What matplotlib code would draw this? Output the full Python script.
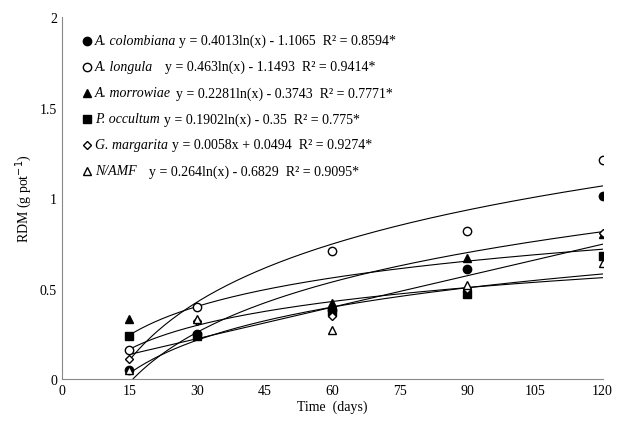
import numpy as np
import matplotlib.pyplot as plt

plt.rcParams['font.family'] = ['Liberation Serif', 'DejaVu Serif']

days = [15, 30, 60, 90, 120]
names = ['A. colombiana', 'A. longula', 'A. morrowiae', 'P. occultum', 'G. margarita', 'N/AMF']
eqs = ['y = 0.4013ln(x) - 1.1065  R² = 0.8594*',
       'y = 0.463ln(x) - 1.1493  R² = 0.9414*',
       'y = 0.2281ln(x) - 0.3743  R² = 0.7771*',
       'y = 0.1902ln(x) - 0.35  R² = 0.775*',
       'y = 0.0058x + 0.0494  R² = 0.9274*',
       'y = 0.264ln(x) - 0.6829  R² = 0.9095*']
values = [
    [0.05, 0.25, 0.38, 0.61, 1.01],
    [0.16, 0.40, 0.71, 0.82, 1.21],
    [0.33, 0.25, 0.42, 0.67, 0.80],
    [0.24, 0.24, 0.37, 0.47, 0.68],
    [0.11, 0.32, 0.35, 0.50, 0.81],
    [0.05, 0.33, 0.27, 0.52, 0.64],
]
coefs = [(0.4013, -1.1065, 'log'), (0.463, -1.1493, 'log'), (0.2281, -0.3743, 'log'),
         (0.1902, -0.35, 'log'), (0.0058, 0.0494, 'lin'), (0.264, -0.6829, 'log')]
markers = [('o', 'black'), ('o', 'white'), ('^', 'black'), ('s', 'black'), ('D', 'white'), ('^', 'white')]
eq_gap = [6, 15, 8, 7, 7, 15]  # pixels between name and equation

fig, ax = plt.subplots(figsize=(6.18, 4.31), dpi=100)
fig.subplots_adjust(left=0.1, right=0.975, top=0.958, bottom=0.118)
xs = np.linspace(15, 120, 200)
for (a, b, kind) in coefs:
    ys = a * np.log(xs) + b if kind == 'log' else a * xs + b
    ax.plot(xs, ys, color='black', lw=0.8)
for v, (m, fc) in zip(values, markers):
    ax.plot(days, v, m, mfc=fc, mec='black', ms=6 if m != 'D' else 4.5, ls='none')

fig.canvas.draw()
r = fig.canvas.get_renderer()
for i, (n, e, (m, fc)) in enumerate(zip(names, eqs, markers)):
    y = 1.87 - i * 0.144
    ax.plot(5.7, y, m, mfc=fc, mec='black', ms=6 if m != 'D' else 4.5, clip_on=False)
    t = ax.text(7.3, y, n, style='italic', fontsize=10, va='center')
    bb = t.get_window_extent(r)
    x1 = ax.transData.inverted().transform((bb.x1 + eq_gap[i], 0))[0]
    ax.text(x1, y, e, fontsize=10, va='center')

ax.set_xlim(0, 120)
ax.set_ylim(0, 2)
ax.set_xticks(range(0, 121, 15))
ax.set_yticks([0, 0.5, 1, 1.5, 2])
ax.set_yticklabels(['0', '0.5', '1', '1.5', '2'])
ax.set_xlabel('Time  (days)', fontsize=10, labelpad=2)
ax.set_ylabel('RDM (g pot$^{-1}$)', fontsize=10)
ax.tick_params(labelsize=10, length=0)
for s in ['top', 'right']:
    ax.spines[s].set_visible(False)
ax.spines['left'].set_color('#888888')
ax.spines['bottom'].set_color('#888888')
fig.savefig('out.png')
